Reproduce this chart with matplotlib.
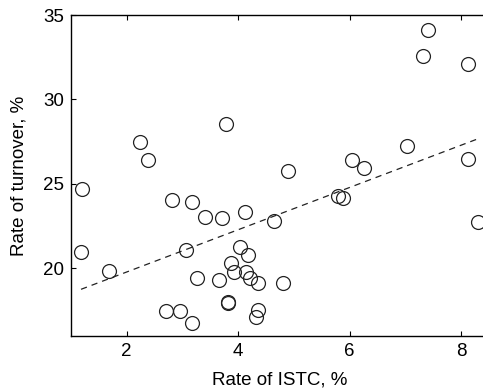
import numpy as np
import matplotlib
matplotlib.use("Agg")
import matplotlib.pyplot as plt

plt.rcParams["font.family"] = ["Liberation Sans", "DejaVu Sans"]

# ---- data ----
istc = [1.18, 1.20, 1.68, 2.24, 2.38, 2.82, 3.18, 3.41, 3.71, 4.12, 4.64,
        3.06, 4.04, 4.17, 3.88, 3.93, 4.15, 4.21, 4.35, 3.26, 3.65, 4.80,
        3.82, 3.82, 2.71, 2.95, 3.18, 4.35, 4.32, 3.79, 4.90, 5.79, 5.89,
        6.05, 6.26, 7.04, 7.40, 7.31, 8.12, 8.12, 8.31]
turnover = [20.97, 24.72, 19.86, 27.51, 26.40, 24.07, 23.91, 23.06, 22.98, 23.34, 22.80,
            21.07, 21.26, 20.79, 20.31, 19.76, 19.78, 19.41, 19.15, 19.41, 19.31, 19.15,
            18.00, 17.93, 17.47, 17.47, 16.74, 17.51, 17.12, 28.52, 25.77, 24.27, 24.19,
            26.40, 25.93, 27.23, 34.13, 32.55, 32.09, 26.50, 22.75]

x = np.array(istc)
y = np.array(turnover)
slope, icpt = np.polyfit(x, y, 1)
xf = np.array([x.min(), x.max()])

fig = plt.figure(figsize=(4.83, 3.90), dpi=100)
ax = fig.add_axes([0.147, 0.1385, 0.865, 0.823])

ax.plot(x, y, "o", ms=10, mfc="none", mec="#222222", mew=0.9)
ax.plot(xf, icpt + slope * xf, "--", color="#222222", lw=0.9, dashes=(5, 4))

ax.set_xlim(1, 8.5)
ax.set_ylim(16, 35)
ax.set_xticks([2, 4, 6, 8])
ax.set_yticks([20, 25, 30, 35])
ax.tick_params(direction="in", length=3.5, width=0.8, labelsize=13.5,
               top=True, right=True, pad=5)
for s in ax.spines.values():
    s.set_linewidth(1.0)

ax.set_xlabel("Rate of ISTC, %", fontsize=13.5, labelpad=8)
ax.set_ylabel("Rate of turnover, %", fontsize=13.5, labelpad=11)

fig.savefig("out.png", dpi=100)
